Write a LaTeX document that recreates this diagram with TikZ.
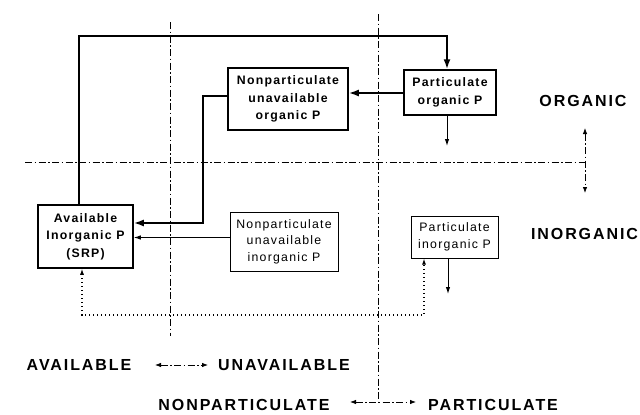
\documentclass[tikz,border=0pt]{standalone}
\usepackage{fontspec}
\setmainfont{Liberation Sans}
\newfontfamily\lblfont[LetterSpace=12]{Liberation Sans}
\newfontfamily\boxfont[LetterSpace=10]{Liberation Sans}
\usetikzlibrary{arrows.meta,calc}
\begin{document}
\begin{tikzpicture}[x=1pt,y=-1pt,
  box/.style={draw,line width=1.5pt,align=center,inner sep=0pt,
    font=\boxfont\bfseries\fontsize{12.3}{17.5}\selectfont},
  ibox/.style={box,line width=1pt,font=\boxfont\fontsize{12.3}{16.5}\selectfont},
  flow/.style={line width=1.8pt,-{Latex[length=10pt,width=7pt]}},
  tflow/.style={line width=1pt,-{Latex[length=7pt,width=4.5pt]}},
  dotln/.style={line width=1.1pt,dash pattern=on 1pt off 3pt,{Latex[length=6pt,width=4pt]}-{Latex[length=6pt,width=4pt]}},
  dd/.style={line width=0.8pt,dash pattern=on 7pt off 2.5pt on 1.5pt off 2.5pt},
  ddarr/.style={dd,{Latex[length=6pt,width=4.5pt]}-{Latex[length=6pt,width=4.5pt]}},
  lbl/.style={font=\lblfont\bfseries\fontsize{16}{19}\selectfont,inner sep=0pt}
]
\useasboundingbox (0,0) rectangle (640,415);

% boxes
\node[box,minimum width=92pt,minimum height=45pt] (POP) at (450,92.5) {Particulate\\organic P};
\node[box,minimum width=120pt,minimum height=62pt] (NUOP) at (288,99) {Nonparticulate\\unavailable\\organic P};
\node[box,minimum width=95pt,minimum height=63pt] (AIP) at (85.5,236.5) {Available\\Inorganic P\\(SRP)};
\node[ibox,minimum width=108pt,minimum height=59pt] (NUIP) at (284,241.5) {Nonparticulate\\unavailable\\inorganic P};
\node[ibox,minimum width=87pt,minimum height=42pt] (PIP) at (454.5,237) {Particulate\\inorganic P};

% labels
\node[lbl] (org) at (583,101) {ORGANIC};
\node[lbl] (inorg) at (584.5,233.5) {INORGANIC};
\node[lbl] (av) at (79,365) {AVAILABLE};
\node[lbl,anchor=west] (unav) at (218,365) {UNAVAILABLE};
\node[lbl] (np) at (244,405) {NONPARTICULATE};
\node[lbl,anchor=west] (pa) at (428,405) {PARTICULATE};

% axes (dash-dot)
\coordinate (hL) at (25,162); \coordinate (hR) at (585,162);
\coordinate (v1t) at (170,22); \coordinate (v1b) at (170,336);
\coordinate (v2t) at (378,14); \coordinate (v2b) at (378,402);
\coordinate (pL) at (350,402); \coordinate (pR) at (416,402);
\coordinate (oT) at (585,128); \coordinate (oB) at (585,193);
\coordinate (aL) at (155,365); \coordinate (aR) at (208,365);
\draw[dd] (hL) -- (hR);
\draw[dd] (v1t) -- (v1b);
\draw[dd] (v2t) -- (v2b);
\draw[ddarr] (pL) -- (pR);
\draw[ddarr] (oT) -- (oB);
\draw[ddarr] (aL) -- (aR);

% thick flows
\coordinate (tl) at (79,36); \coordinate (tr) at (447,36);
\draw[flow] ([xshift=-6.5pt]AIP.north) -- (tl) -- (tr) -- ([xshift=-3pt]POP.north);
\coordinate (pm) at (404,93);
\draw[flow] (POP.west |- pm) -- (pm -| NUOP.east);
\coordinate (c1) at (203,96); \coordinate (c2) at (203,223);
\draw[flow] (NUOP.west |- c1) -- (c1) -- (c2) -- (c2 -| AIP.east);

% thin flows
\path ([yshift=4pt]NUIP.west) coordinate (n1);
\draw[tflow] (n1) -- (n1 -| AIP.east);
\coordinate (pd) at (447,146);
\draw[tflow] ([xshift=-3pt]POP.south) -- (pd);
\coordinate (id) at (448,294);
\draw[tflow] ([xshift=-6.5pt]PIP.south) -- (id);

% dotted exchange
\coordinate (d1) at (82,315); \coordinate (d2) at (424,315);
\draw[dotln] ([xshift=-3.5pt]AIP.south) -- (d1) -- (d2) -- (PIP.south -| d2);
\end{tikzpicture}
\end{document}
